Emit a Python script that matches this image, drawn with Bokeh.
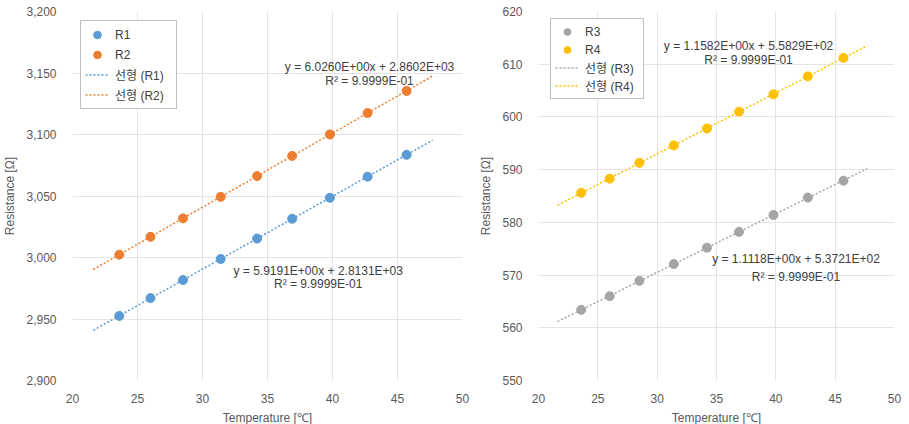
import numpy as np
from bokeh.plotting import figure
from bokeh.layouts import row
from bokeh.models import Legend, LegendItem, Label, NumeralTickFormatter, FixedTicker, Range1d
from bokeh.embed import file_html
from bokeh.resources import INLINE

# ---- data ----
temperature = [23.6, 26.0, 28.5, 31.4, 34.2, 36.9, 39.8, 42.7, 45.7]
r1 = [2952.5, 2967.0, 2981.7, 2998.8, 3015.4, 3031.5, 3048.6, 3065.7, 3083.5]
r2 = [3002.3, 3016.8, 3031.8, 3049.3, 3066.2, 3082.6, 3100.0, 3117.5, 3135.4]
r3 = [563.4, 566.0, 568.9, 572.1, 575.2, 578.2, 581.4, 584.7, 587.9]
r4 = [585.6, 588.3, 591.3, 594.6, 597.8, 601.0, 604.3, 607.7, 611.2]

left_eq_top = ["y = 6.0260E+00x + 2.8602E+03", "R² = 9.9999E-01"]
left_eq_bot = ["y = 5.9191E+00x + 2.8131E+03", "R² = 9.9999E-01"]
right_eq_top = ["y = 1.1582E+00x + 5.5829E+02", "R² = 9.9999E-01"]
right_eq_bot = ["y = 1.1118E+00x + 5.3721E+02", "R² = 9.9999E-01"]

x_ticks = [20, 25, 30, 35, 40, 45, 50]
left_y_ticks = [2900, 2950, 3000, 3050, 3100, 3150, 3200]
right_y_ticks = [550, 560, 570, 580, 590, 600, 610, 620]

BLUE = "#5B9BD5"
ORANGE = "#ED7D31"
GRAY = "#A5A5A5"
GOLD = "#FFC000"
FONT = "Liberation Sans"
LEG_FONT = "Liberation Sans, Noto Sans CJK KR"
TXT = "#595959"


def trend(xs, ys):
    m, b = np.polyfit(xs, ys, 1)
    tx = np.array([min(xs) - 2.0, max(xs) + 2.0])
    return tx, m * tx + b


def make_fig(yr, yticks, fmt, left_border, frame_w, right_border):
    p = figure(frame_width=frame_w, frame_height=369, output_backend="svg",
               toolbar_location=None, x_range=Range1d(20, 50), y_range=Range1d(*yr),
               min_border_left=left_border, min_border_right=right_border,
               min_border_top=11, min_border_bottom=38)
    p.outline_line_color = None
    p.background_fill_color = "white"
    p.border_fill_color = "white"
    p.xaxis.ticker = FixedTicker(ticks=x_ticks)
    p.yaxis.ticker = FixedTicker(ticks=yticks)
    if fmt:
        p.yaxis.formatter = NumeralTickFormatter(format="0,0")
    for ax in (p.xaxis[0], p.yaxis[0]):
        ax.axis_line_color = None
        ax.major_tick_line_color = None
        ax.minor_tick_line_color = None
        ax.major_label_text_font = FONT
        ax.major_label_text_font_size = "12px"
        ax.major_label_text_color = TXT
        ax.axis_label_text_font = FONT
        ax.axis_label_text_font_size = "12px"
        ax.axis_label_text_font_style = "normal"
        ax.axis_label_text_color = TXT
    p.xaxis.axis_label = "Temperature [℃]"
    p.yaxis.axis_label = "Resistance [Ω]"
    p.xaxis.major_label_standoff = 7
    p.xaxis.axis_label_standoff = 5
    p.yaxis.major_label_standoff = 10
    p.yaxis.axis_label_standoff = 6
    p.xgrid.grid_line_color = "#E4E4E4"
    p.ygrid.grid_line_color = "#E4E4E4"
    return p


def add_series(p, xs, ysA, ysB, cA, cB, nA, nB, legend_xy, row_h, lab_w, eqA, eqB, posA, posB):
    tA = trend(xs, ysA)
    tB = trend(xs, ysB)
    lA = p.line(tA[0], tA[1], line_color=cA, line_width=1.5, line_dash="2 2")
    lB = p.line(tB[0], tB[1], line_color=cB, line_width=1.5, line_dash="2 2")
    sA = p.scatter(xs, ysA, marker="circle", size=9, fill_color=cA, line_color=cA)
    sB = p.scatter(xs, ysB, marker="circle", size=9, fill_color=cB, line_color=cB)
    legend = Legend(items=[
        LegendItem(label=nA, renderers=[sA]),
        LegendItem(label=nB, renderers=[sB]),
        LegendItem(label="선형 (" + nA + ")", renderers=[lA]),
        LegendItem(label="선형 (" + nB + ")", renderers=[lB]),
    ], location=legend_xy)
    legend.label_text_font = LEG_FONT
    legend.label_text_font_size = "12px"
    legend.label_text_color = "#404040"
    legend.border_line_color = "#7F7F7F"
    legend.border_line_width = 1
    legend.padding = 4
    legend.spacing = 1
    legend.margin = 0
    legend.label_height = row_h
    legend.glyph_height = row_h
    legend.glyph_width = 24
    legend.label_width = lab_w
    legend.label_standoff = 6
    legend.background_fill_alpha = 1
    p.add_layout(legend, "center")
    for eq, (x, y0, y1) in ((eqA, posA), (eqB, posB)):
        for txt, yy in ((eq[0], y0), (eq[1], y1)):
            p.add_layout(Label(x=x, y=yy, text=txt, text_align="center", text_baseline="middle",
                               text_font=FONT, text_font_size="12px", text_color="#404040"))


p1 = make_fig((2900, 3200), left_y_ticks, True, 64, 390, 8)
add_series(p1, temperature, r1, r2, BLUE, ORANGE, "R1", "R2", (8, 271), 19, 57,
           left_eq_bot, left_eq_top,
           (38.9, 2989.0, 2978.5), (42.85, 3154.5, 3143.8))

p2 = make_fig((550, 620), right_y_ticks, False, 68, 356, 7)
add_series(p2, temperature, r3, r4, GRAY, GOLD, "R3", "R4", (12, 281), 17, 54,
           right_eq_bot, right_eq_top,
           (41.7, 573.0, 569.6), (37.7, 613.4, 610.8))

layout = row(p1, p2)
open("out.html", "w").write(file_html(layout, INLINE))
